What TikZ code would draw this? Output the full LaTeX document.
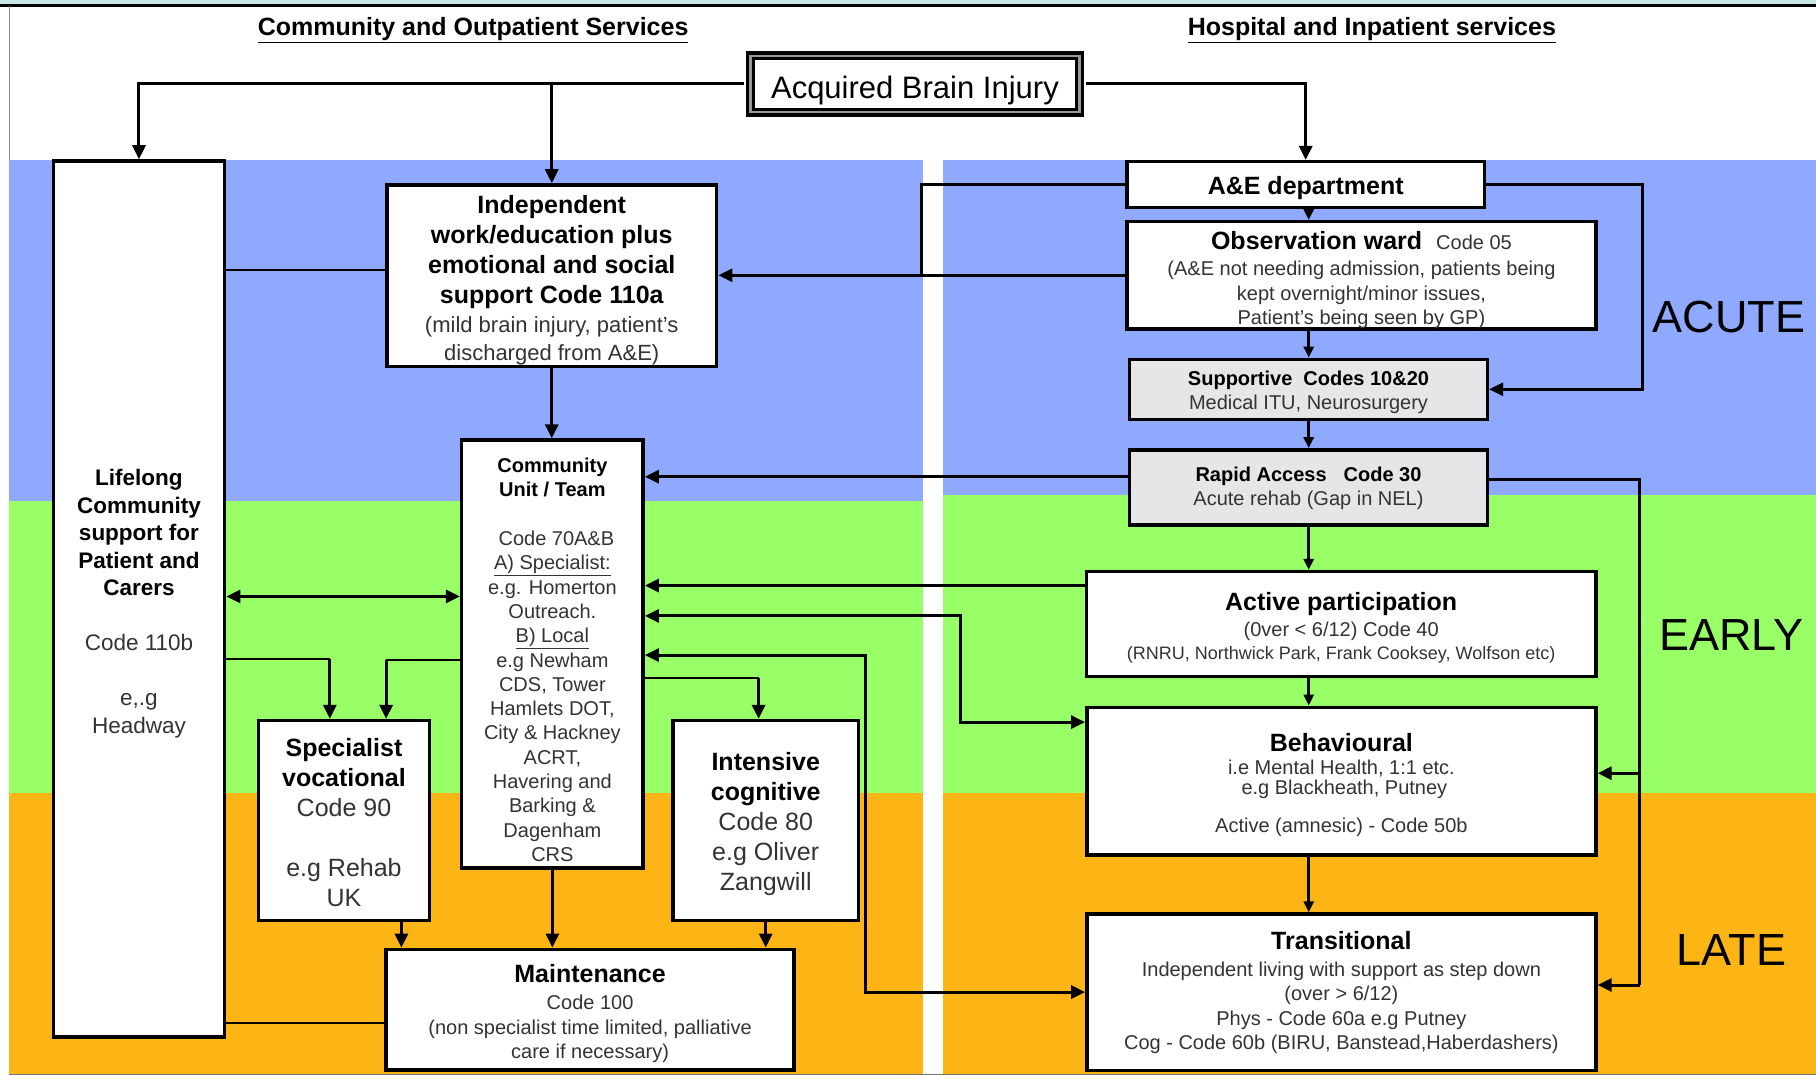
\documentclass[tikz,border=0pt]{standalone}
\usepackage{fontspec}
\setmainfont{Liberation Sans}
\usetikzlibrary{arrows.meta,calc}
\definecolor{bandblue}{HTML}{8FA9FF}
\definecolor{bandgreen}{HTML}{99FF66}
\definecolor{bandorange}{HTML}{FDB515}
\definecolor{boxgray}{HTML}{E6E6E8}
\definecolor{txt}{HTML}{333333}
\definecolor{topcyan}{HTML}{C8E6E8}
\newcommand\fsz[2]{\fontsize{#1}{#2}\selectfont}
% a centred block of lines, one paragraph per line; #2 = extra space on top (moves text down by half)
\newcommand\tb[3]{\vbox{\hsize=#1pt\centering\parindent=0pt\parskip=0pt\relax\vskip#2pt\relax #3\par}}
\begin{document}
\begin{tikzpicture}[x=1.1582pt,y=-1.1582pt,
  box/.style={draw=black, line width=3.5pt, fill=white, inner sep=0pt, text=black},
  graybox/.style={box, fill=boxgray},
  sz/.style 2 args={minimum width=#1pt, minimum height=#2pt},
  line/.style={line width=3pt},
  thinline/.style={line width=1.6pt},
  conn/.style={line, -{Triangle[length=14pt,width=13pt]}},
  conn2/.style={line, {Triangle[length=14pt,width=13pt]}-{Triangle[length=14pt,width=13pt]}},
  sconn/.style={line, -{Triangle[length=11pt,width=10pt]}},
  phase/.style={font=\fsz{45}{50}, inner sep=0pt},
  header/.style={font=\fsz{25}{30}\bfseries, anchor=base, inner sep=0pt}
]
% canvas
\useasboundingbox (0,0) rectangle (1568,928.17);
\fill[white] (0,0) rectangle (1568,928.17);
\fill[topcyan] (0,0) rectangle (1568,4);
\draw[line width=2.7pt] (0,4.6) -- (1568,4.6);
\draw[line width=1pt, black!45] (7.8,5) -- (7.8,928.17);
% bands
\fill[bandblue] (8,138) rectangle (797,433);
\fill[bandgreen] (8,433) rectangle (797,685);
\fill[bandorange] (8,685) rectangle (797,928.17);
\fill[bandblue] (814,138) rectangle (1568,427.5);
\fill[bandgreen] (814,427.5) rectangle (1568,685);
\fill[bandorange] (814,685) rectangle (1568,928.17);
\draw[line width=1pt, black!55] (8,927.5) -- (1568,927.5);

% headers
\node[header] (hl) at (408.5,31) {\underline{Community and Outpatient Services}};
\node[header] (hr) at (1184.5,31) {\underline{Hospital and Inpatient services}};

% phase labels
\node[phase] (acute) at (1493,274) {ACUTE};
\node[phase] (early) at (1495,548.5) {EARLY};
\node[phase] (late) at (1495,820.7) {LATE};

% top node
\node[draw=black, line width=3.3pt, double=black!40, double distance=2.4pt, fill=white, inner sep=0pt,
      sz={328.9}{56.2}] (abi) at (790,72.45) {\tb{320}{14}{\fsz{31}{36}Acquired Brain Injury}};

% left column
\node[box, sz={171.4}{876.2}] (life) at (120,517.25)
 {\tb{160}{9.3}{\fsz{22.5}{27.5}\bfseries Lifelong\par Community\par support for\par Patient and\par Carers\par
  \vskip27.5pt \mdseries\color{txt}Code 110b\par\vskip27.5pt e,.g\par Headway}};

\node[box, sz={329.9}{181.7}] (indep) at (476.4,238.15)
 {\tb{320}{9.3}{\fsz{25}{30}\bfseries Independent\par work/education plus\par emotional and social\par support Code 110a\par
  \fsz{22}{29}\mdseries\color{txt}(mild brain injury, patient’s\par\fsz{22}{28}discharged from A\&E)}};

\node[box, sz={181.5}{427.9}] (comm) at (476.95,564.75)
 {\tb{175}{11.6}{\fsz{20}{24.3}\bfseries Community\par Unit / Team\par\vskip24.3pt
  \mdseries\color{txt}\hspace*{8pt}Code 70A\&B\par \underline{A) Specialist:}\par e.g. Homerton\par Outreach.\par \underline{B) Local}\par e.g Newham\par CDS, Tower\par Hamlets DOT,\par City \& Hackney\par ACRT,\par Havering and\par Barking \&\par Dagenham\par CRS}};

\node[box, sz={171.4}{200.1}] (spec) at (297,708.6)
 {\tb{165}{4.6}{\fsz{25}{30}\bfseries Specialist\par vocational\par\mdseries\color{txt}Code 90\par\vskip30pt e.g Rehab\par UK}};

\node[box, sz={185.7}{200.1}] (inten) at (661.15,708.6)
 {\tb{180}{5.8}{\fsz{25}{30}\bfseries Intensive\par cognitive\par\mdseries\color{txt}Code 80\par e.g Oliver\par Zangwill}};

\node[box, sz={407.9}{120.7}] (maint) at (509.5,871.8)
 {\tb{400}{8.1}{\fsz{25}{30}\bfseries Maintenance\par\fsz{20}{26.6}\mdseries\color{txt}Code 100\par\fsz{20}{25}(non specialist time limited, palliative\par\fsz{20}{24.3}care if necessary)}};

% right column
\node[box, sz={357.6}{45.6}] (ae) at (1127.4,159.3)
 {\tb{350}{7}{\fsz{25}{30}\bfseries A\&E department}};

\node[box, sz={469.1}{107.2}] (obs) at (1175.5,237.7)
 {\tb{460}{9.3}{\fsz{25}{30}\bfseries Observation ward\hspace{14pt}\fsz{20}{24.3}\mdseries\color{txt} Code 05\par
  \fsz{20}{26.6}(A\&E not needing admission, patients being\par\fsz{20}{24.3}kept overnight/minor issues,\par Patient’s being seen by GP)}};

\node[graybox, sz={357.6}{59.9}] (sup) at (1129.8,336.15)
 {\tb{350}{5.8}{\fsz{20}{24.3}\bfseries Supportive\hspace{11pt}Codes 10\&20\par\mdseries\color{txt}Medical ITU, Neurosurgery}};

\node[graybox, sz={357.6}{75.1}] (rapid) at (1129.8,420.9)
 {\tb{350}{2.3}{\fsz{20}{24.3}\bfseries Rapid Access\hspace{17pt}Code 30\par\mdseries\color{txt}Acute rehab (Gap in NEL)}};

\node[box, sz={509.6}{104.9}] (active) at (1158,538.9)
 {\tb{500}{7}{\fsz{25}{30}\bfseries Active participation\par\fsz{20}{26.6}\mdseries\color{txt}(0ver < 6/12) Code 40\par\fsz{18}{23}(RNRU, Northwick Park, Frank Cooksey, Wolfson etc)}};

\node[box, sz={509.1}{147.7}] (behav) at (1158.2,674.45)
 {\tb{500}{8.1}{\fsz{25}{30}\bfseries Behavioural\par\fsz{20}{23.2}\mdseries\color{txt}i.e Mental Health, 1:1 etc.\par\fsz{20}{19.7}\hspace*{6pt}e.g Blackheath, Putney\par\fsz{20}{38.2}Active (amnesic) - Code 50b}};

\node[box, sz={509.1}{156.5}] (trans) at (1158.2,856.75)
 {\tb{500}{1}{\fsz{25}{30}\bfseries Transitional\par\fsz{20}{26.6}\mdseries\color{txt}Independent living with support as step down\par\fsz{20}{24.3}(over > 6/12)\par Phys - Code 60a e.g Putney\par Cog - Code 60b (BIRU, Banstead,Haberdashers)}};

% helper coordinates
\coordinate (aeL) at (796,0);
\coordinate (aeR) at (1418,0);
\coordinate (cx) at (1130,0);
\coordinate (ry) at (0,411.6);
\coordinate (rR) at (1416,414.4);
\coordinate (rB) at (1416,667.6);
\coordinate (rT) at (1416,850.5);
\coordinate (ay) at (0,505.6);
\coordinate (cb1) at (829,531.8);
\coordinate (cb2) at (829,623.5);
\coordinate (ct1) at (747,565.6);
\coordinate (ct2) at (747,856.6);
\coordinate (ci) at (655,585.5);
\coordinate (cs) at (333.4,570);
\coordinate (ls) at (284.8,569);
\coordinate (lc) at (0,515);
\coordinate (sm) at (346.6,0);
\coordinate (li) at (0,233);
\coordinate (lm) at (0,883.5);

% connectors from top node
\draw[conn] ([xshift=-4.8pt]abi.west) -| (life.north);
\draw[conn] (abi.west -| indep.north) -- (indep.north);
\draw[conn] ([xshift=4.8pt]abi.east) -| (ae.north);

% left column connectors
\draw[thinline] (life.east |- li) -- (indep.west |- li);
\draw[thinline] (life.east |- lm) -- (maint.west |- lm);
\draw[conn] (indep.south) -- (indep.south |- comm.north);
\draw[conn2] (life.east |- lc) -- (comm.west |- lc);
\draw[thinline] (life.east |- ls) -- (ls);
\draw[conn] (ls) -- (ls |- spec.north);
\draw[thinline] (comm.west |- cs) -- (cs);
\draw[conn] (cs) -- (cs |- spec.north);
\draw[thinline] (comm.east |- ci) -- (ci);
\draw[conn] (ci) -- (ci |- inten.north);
\draw[conn] (comm.south) -- (comm.south |- maint.north);
\draw[conn] (sm |- spec.south) -- (sm |- maint.north);
\draw[conn] (inten.south) -- (inten.south |- maint.north);

% right column chain
\draw[sconn] (cx |- ae.south) -- (cx |- obs.north);
\draw[sconn] (cx |- obs.south) -- (cx |- sup.north);
\draw[sconn] (cx |- sup.south) -- (cx |- rapid.north);
\draw[sconn] (cx |- rapid.south) -- (cx |- active.north);
\draw[sconn] (cx |- active.south) -- (cx |- behav.north);
\draw[sconn] (cx |- behav.south) -- (cx |- trans.north);

% A&E side branches
\draw[line] (ae.west) -| (aeL |- obs.west);
\draw[conn] (obs.west) -- (obs.west -| indep.east);
\draw[conn] (ae.east) -| (aeR |- sup.east) -- (sup.east);

% rapid access branches
\draw[conn] (rapid.west |- ry) -- (comm.east |- ry);
\draw[line] (rapid.east |- rR) -- (rR) -- (rT);
\draw[conn] (rB) -- (rB -| behav.east);
\draw[conn] (rT) -- (rT -| trans.east);

% to community unit
\draw[conn] (active.west |- ay) -- (comm.east |- ay);
\draw[conn2] (comm.east |- cb1) -- (cb1) -- (cb2) -- (behav.west |- cb2);
\draw[conn2] (comm.east |- ct1) -- (ct1) -- (ct2) -- (trans.west |- ct2);
\end{tikzpicture}
\end{document}
